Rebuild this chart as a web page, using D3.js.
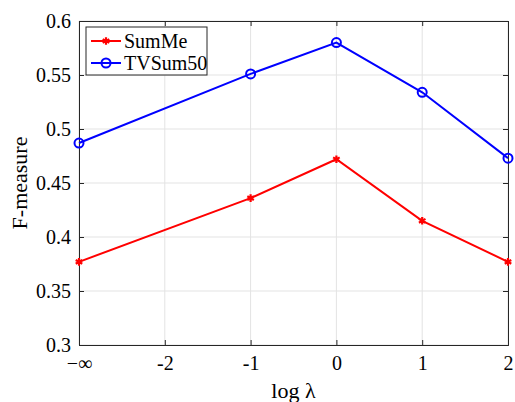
<!DOCTYPE html>
<html>
<head>
<meta charset="utf-8">
<script src="https://cdn.jsdelivr.net/npm/d3@7"></script>
<style>
  body { margin: 0; background: #fff; }
  svg, svg text { font-family: "Liberation Serif", "Times New Roman", serif; }
</style>
</head>
<body>
<div id="chart"></div>
<script>
// x positions: -inf is drawn at -3
const xTicks = [-3, -2, -1, 0, 1, 2];
const xTickLabels = ['\u2212\u221e', '-2', '-1', '0', '1', '2'];
const lambdaLog = [-3, -1, 0, 1, 2];
const sumMe = [0.377, 0.436, 0.472, 0.415, 0.377];
const tvSum50 = [0.487, 0.551, 0.580, 0.534, 0.473];
const yTicks = [0.3, 0.35, 0.4, 0.45, 0.5, 0.55, 0.6];

const width = 515, height = 402;
const margin = { top: 21, right: 7, bottom: 57, left: 79 };
const iw = width - margin.left - margin.right;
const ih = height - margin.top - margin.bottom;

const svg = d3.select('#chart').append('svg')
  .attr('width', width).attr('height', height);
const g = svg.append('g').attr('transform', `translate(${margin.left},${margin.top})`);

const x = d3.scaleLinear().domain([-3, 2]).range([0, iw]);
const y = d3.scaleLinear().domain([0.3, 0.6]).range([ih, 0]);

// grid
g.append('g').selectAll('line').data(xTicks).enter().append('line')
  .attr('x1', d => x(d)).attr('x2', d => x(d)).attr('y1', 0).attr('y2', ih)
  .attr('stroke', '#e3e3e3').attr('stroke-width', 1);
g.append('g').selectAll('line').data(yTicks).enter().append('line')
  .attr('y1', d => y(d)).attr('y2', d => y(d)).attr('x1', 0).attr('x2', iw)
  .attr('stroke', '#e3e3e3').attr('stroke-width', 1);

// axes
const axisColor = '#262626';
const xAxis = g.append('g').attr('transform', `translate(0,${ih})`)
  .call(d3.axisBottom(x).tickValues(xTicks).tickSize(-5).tickPadding(11)
    .tickFormat((d, i) => xTickLabels[i]));
const xTop = g.append('g')
  .call(d3.axisTop(x).tickValues(xTicks).tickSize(-5).tickFormat(''));
const yAxis = g.append('g')
  .call(d3.axisLeft(y).tickValues(yTicks).tickSize(-5).tickPadding(8)
    .tickFormat(d3.format('')));
const yRight = g.append('g').attr('transform', `translate(${iw},0)`)
  .call(d3.axisRight(y).tickValues(yTicks).tickSize(-5).tickFormat(''));

[xAxis, xTop, yAxis, yRight].forEach(a => {
  a.attr('font-family', null).attr('font-size', null);
  a.select('.domain').attr('stroke', axisColor).attr('stroke-width', 1);
  a.selectAll('.tick line').attr('stroke', axisColor);
  a.selectAll('text').attr('fill', '#000').style('font-size', '20px');
});
xAxis.selectAll('text').attr('dy', '0.71em');

// axis labels
svg.append('text')
  .attr('x', margin.left + iw / 2).attr('y', 398)
  .attr('text-anchor', 'middle').style('font-size', '22px')
  .text('log \u03bb');
svg.append('text')
  .attr('transform', `translate(27,${margin.top + ih / 2}) rotate(-90)`)
  .attr('text-anchor', 'middle').style('font-size', '22px')
  .text('F-measure');

// lines
const line = d3.line().x((d, i) => x(lambdaLog[i])).y(d => y(d));
g.append('path').datum(sumMe).attr('d', line)
  .attr('fill', 'none').attr('stroke', '#ff0000').attr('stroke-width', 2);
g.append('path').datum(tvSum50).attr('d', line)
  .attr('fill', 'none').attr('stroke', '#0000ff').attr('stroke-width', 2);

const star = d3.symbol().type(d3.symbolAsterisk).size(40);
g.append('g').selectAll('path').data(sumMe).enter().append('path')
  .attr('d', star)
  .attr('transform', (d, i) => `translate(${x(lambdaLog[i])},${y(d)})`)
  .attr('fill', 'none').attr('stroke', '#ff0000').attr('stroke-width', 2.2);
g.append('g').selectAll('circle').data(tvSum50).enter().append('circle')
  .attr('cx', (d, i) => x(lambdaLog[i])).attr('cy', d => y(d)).attr('r', 4.5)
  .attr('fill', 'none').attr('stroke', '#0000ff').attr('stroke-width', 2);

// legend
const lg = svg.append('g').attr('transform', 'translate(86,27)');
lg.append('rect').attr('width', 121).attr('height', 48)
  .attr('fill', '#fff').attr('stroke', axisColor).attr('stroke-width', 1);
const entries = [
  { name: 'SumMe', color: '#ff0000', marker: 'star' },
  { name: 'TVSum50', color: '#0000ff', marker: 'circle' }
];
entries.forEach((e, i) => {
  const cy = 14 + i * 22;
  lg.append('line').attr('x1', 5).attr('x2', 35).attr('y1', cy).attr('y2', cy)
    .attr('stroke', e.color).attr('stroke-width', 2);
  if (e.marker === 'star') {
    lg.append('path').attr('d', star).attr('transform', `translate(20,${cy})`)
      .attr('fill', 'none').attr('stroke', e.color).attr('stroke-width', 2.2);
  } else {
    lg.append('circle').attr('cx', 20).attr('cy', cy).attr('r', 4.5)
      .attr('fill', 'none').attr('stroke', e.color).attr('stroke-width', 2);
  }
  lg.append('text').attr('x', 38).attr('y', cy).attr('dy', '0.35em')
    .style('font-size', '20px').text(e.name);
});
</script>
</body>
</html>
